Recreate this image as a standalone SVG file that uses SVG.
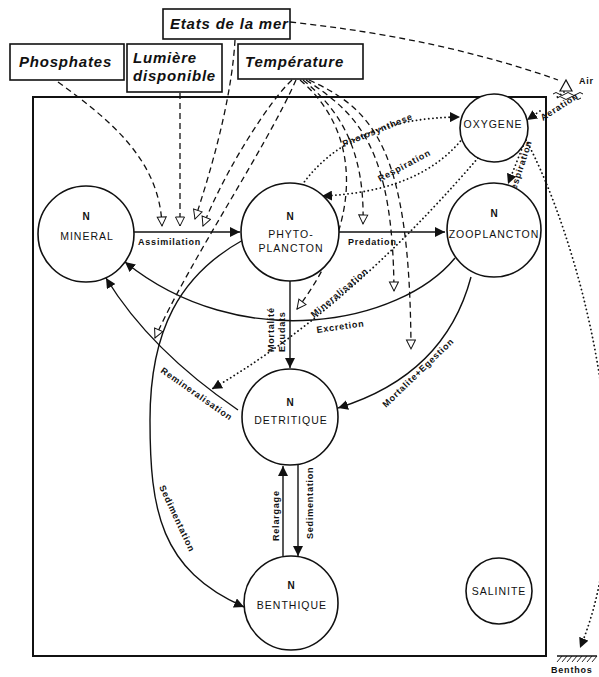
<svg xmlns="http://www.w3.org/2000/svg" width="599" height="677" viewBox="0 0 599 677">
<defs>
<marker id="fa" viewBox="0 0 10 10" refX="10" refY="5" markerWidth="10" markerHeight="10" markerUnits="userSpaceOnUse" orient="auto">
<path d="M0,0 L10,5 L0,10 z" fill="#111" stroke="none"/>
</marker>
<marker id="oa" viewBox="-1 -1 12 12" refX="9" refY="4.5" markerWidth="12" markerHeight="12" markerUnits="userSpaceOnUse" orient="auto">
<path d="M0,0 L9,4.5 L0,9 z" fill="#fff" stroke="#111" stroke-width="1" stroke-dasharray="none"/>
</marker>
</defs>
<style>
.node circle{fill:#fff;stroke:#111;stroke-width:1.6}
.nt{font-family:"Liberation Sans",Arial,sans-serif;font-size:10.5px;letter-spacing:1px;text-anchor:middle;fill:#111}
.nn{font-family:"Liberation Sans",Arial,sans-serif;font-size:10px;font-weight:bold;text-anchor:middle;fill:#111}
.box rect{fill:#fff;stroke:#111;stroke-width:1.6}
.bt{font-family:"Liberation Sans",Arial,sans-serif;font-size:15px;font-weight:bold;font-style:italic;letter-spacing:0.8px;fill:#111}
.solid{fill:none;stroke:#111;stroke-width:1.4}
.dash{fill:none;stroke:#111;stroke-width:1.3;stroke-dasharray:6 4}
.dot{fill:none;stroke:#111;stroke-width:1.8;stroke-dasharray:0.1 4;stroke-linecap:round}
.lb{font-family:"Liberation Sans",Arial,sans-serif;font-size:9px;font-weight:bold;letter-spacing:0.8px;fill:#111}
</style>
<rect width="599" height="677" fill="#fff"/>
<rect x="33" y="97" width="513" height="559" fill="none" stroke="#111" stroke-width="2"/>

<g id="connectors">
<!-- solid flows -->
<path class="solid" d="M134,232 L240,232" marker-end="url(#fa)"/>
<path class="solid" d="M339,232 L445,232" marker-end="url(#fa)"/>
<path class="solid" d="M455,258 C400,325 240,355 125,262" marker-end="url(#fa)"/>
<path class="solid" d="M238,410 Q150,350 106,278" marker-end="url(#fa)"/>
<path class="solid" d="M290,281 L290,368" marker-end="url(#fa)"/>
<path class="solid" d="M471,277 Q445,375 338,408" marker-end="url(#fa)"/>
<path class="solid" d="M243,240 C180,275 150,330 150,420 C150,510 160,570 244,607" marker-end="url(#fa)"/>
<path class="solid" d="M283,556 L283,466" marker-end="url(#fa)"/>
<path class="solid" d="M298,465 L298,556" marker-end="url(#fa)"/>
<!-- dotted oxygen flows -->
<path class="dot" d="M302,185 Q350,118 460,117" marker-end="url(#fa)"/>
<path class="dot" d="M463,138 Q420,192 322,196" marker-end="url(#fa)"/>
<path class="dot" d="M478,158 C420,225 330,320 212,389" marker-end="url(#fa)"/>
<path class="dot" d="M523,146 L508,184" marker-end="url(#fa)"/>
<path class="dot" d="M564,92 L556,98 M540,111 L527,120" marker-end="url(#fa)"/>
<path class="dot" d="M526,140 C575,230 650,480 580,648" marker-end="url(#fa)"/>
<!-- dashed forcings -->
<path class="dash" d="M290,22 Q440,38 558,80"/>
<path class="dash" d="M58,82 C110,120 160,160 162,226" marker-end="url(#oa)"/>
<path class="dash" d="M180,93 L180,226" marker-end="url(#oa)"/>
<path class="dash" d="M235,40 Q231,110 195,219" marker-end="url(#oa)"/>
<path class="dash" d="M292,80 C270,100 225,170 203,226" marker-end="url(#oa)"/>
<path class="dash" d="M296,80 C265,150 190,260 155,338" marker-end="url(#oa)"/>
<path class="dash" d="M300,80 C360,130 365,220 297,309" marker-end="url(#oa)"/>
<path class="dash" d="M303,80 C340,110 365,150 363,224" marker-end="url(#oa)"/>
<path class="dash" d="M306,80 C360,115 393,150 394,291" marker-end="url(#oa)"/>
<path class="dash" d="M309,80 C375,110 410,150 411,349" marker-end="url(#oa)"/>
<!-- labels -->
<text class="lb" x="138" y="245">Assimilation</text>
<text class="lb" x="348" y="245">Predation</text>
<text class="lb" transform="rotate(-8 317 333)" x="317" y="333">Excretion</text>
<text class="lb" transform="rotate(-40 314 318)" x="314" y="318">Mineralisation</text>
<text class="lb" transform="rotate(-90 274 352)" x="274" y="352">Mortalité</text>
<text class="lb" transform="rotate(-90 285 352)" x="285" y="352">Exudats</text>
<text class="lb" transform="rotate(-44 386 408)" x="386" y="408">Mortalite+Egestion</text>
<text class="lb" transform="rotate(35 160 372)" x="160" y="372">Remineralisation</text>
<text class="lb" transform="rotate(65 159 487)" x="159" y="487">Sedimentation</text>
<text class="lb" transform="rotate(-90 279 541)" x="279" y="541">Relargage</text>
<text class="lb" transform="rotate(-90 313 539)" x="313" y="539">Sedimentation</text>
<text class="lb" transform="rotate(-22 344 147)" x="344" y="147">Photosynthese</text>
<text class="lb" transform="rotate(-28 380 182)" x="380" y="182">Respiration</text>
<text class="lb" transform="rotate(-72 514 197)" x="514" y="197">Respiration</text>
<text class="lb" transform="rotate(-33 543 121)" x="543" y="121">Aeration</text>
</g>

<g id="air">
<polygon points="560,91 572,91 566,80" fill="#fff" stroke="#111" stroke-width="1.2"/>
<path d="M553,94 q3,-3 6,0 t6,0 t6,0 t6,0 t6,0" fill="none" stroke="#111" stroke-width="1"/>
<path d="M557,98 q3,-3 6,0 t6,0 t6,0 t6,0" fill="none" stroke="#111" stroke-width="1"/>
<text class="lb" x="579" y="84">Air</text>
</g>

<g id="benthos">
<path d="M557,656 L597,656" stroke="#111" stroke-width="1.4"/>
<path d="M557,662 L562,656 M562,662 L567,656 M567,662 L572,656 M572,662 L577,656 M577,662 L582,656 M582,662 L587,656 M587,662 L592,656 M592,662 L597,656" stroke="#111" stroke-width="0.9"/>
<text class="lb" x="551" y="673" letter-spacing="0">Benthos</text>
</g>

<g id="box-phosphates" class="box"><rect x="10" y="44" width="114" height="36"/><text class="bt" x="19" y="67">Phosphates</text></g>
<g id="box-lumiere" class="box"><rect x="127" y="44" width="95" height="48"/><text class="bt" x="133" y="63">Lumière</text><text class="bt" x="133" y="81">disponible</text></g>
<g id="box-etats" class="box"><rect x="163" y="9" width="127" height="30"/><text class="bt" x="170" y="29" letter-spacing="0.2">Etats de la mer</text></g>
<g id="box-temperature" class="box"><rect x="238" y="44" width="125" height="35"/><text class="bt" x="245" y="67">Température</text></g>

<g id="node-mineral" class="node"><circle cx="86" cy="234" r="48"/><text class="nn" x="86" y="220">N</text><text class="nt" x="87" y="240">MINERAL</text></g>
<g id="node-phyto" class="node"><circle cx="290" cy="232" r="49"/><text class="nn" x="290" y="220">N</text><text class="nt" x="291" y="238">PHYTO-</text><text class="nt" x="291" y="252">PLANCTON</text></g>
<g id="node-zoo" class="node"><circle cx="494" cy="230" r="47"/><text class="nn" x="494" y="217">N</text><text class="nt" x="494" y="238" letter-spacing="0.6">ZOOPLANCTON</text></g>
<g id="node-oxygene" class="node"><circle cx="494" cy="128" r="34"/><text class="nt" x="493" y="128" letter-spacing="0.3">OXYGENE</text></g>
<g id="node-detritique" class="node"><circle cx="290" cy="417" r="48"/><text class="nn" x="290" y="406">N</text><text class="nt" x="291" y="424">DETRITIQUE</text></g>
<g id="node-benthique" class="node"><circle cx="291" cy="603" r="47"/><text class="nn" x="291" y="589">N</text><text class="nt" x="292" y="609">BENTHIQUE</text></g>
<g id="node-salinite" class="node"><circle cx="499" cy="591" r="33"/><text class="nt" x="499" y="595" letter-spacing="0.6">SALINITE</text></g>
</svg>
